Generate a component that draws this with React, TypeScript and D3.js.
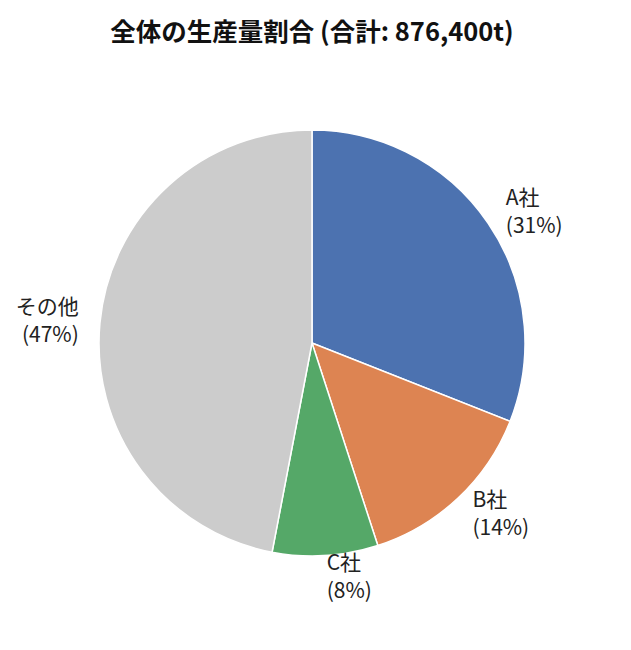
import { useEffect, useRef } from "react";
import * as d3 from "d3";

const title = "全体の生産量割合 (合計: 876,400t)";
const companies = ["A社", "B社", "C社", "その他"];
const shares = [31, 14, 8, 47];
const colors = ["#4c72b0", "#dd8452", "#55a868", "#cccccc"];

const width = 631;
const height = 650;
const cx = 312;
const cy = 343;
const radius = 213;

export default function App() {
  const svgRef = useRef<SVGSVGElement>(null);

  useEffect(() => {
    if (!svgRef.current) return;
    const svg = d3.select(svgRef.current);
    svg.selectAll("*").remove();

    svg
      .append("rect")
      .attr("width", width)
      .attr("height", height)
      .attr("fill", "#ffffff");

    const font = "'Noto Sans CJK JP', 'Noto Sans', sans-serif";

    svg
      .append("text")
      .attr("x", cx)
      .attr("y", 41)
      .attr("text-anchor", "middle")
      .attr("font-family", font)
      .attr("font-weight", "bold")
      .attr("font-size", 25.5)
      .attr("fill", "#111")
      .text(title);

    const data = companies.map((name, i) => ({ name, value: shares[i], color: colors[i] }));

    const pie = d3
      .pie<(typeof data)[number]>()
      .value((d) => d.value)
      .sort(null);

    const arcs = pie(data);
    const arc = d3
      .arc<d3.PieArcDatum<(typeof data)[number]>>()
      .innerRadius(0)
      .outerRadius(radius);

    const g = svg.append("g").attr("transform", `translate(${cx},${cy})`);

    g.selectAll("path")
      .data(arcs)
      .join("path")
      .attr("d", arc)
      .attr("fill", (d) => d.data.color)
      .attr("stroke", "#ffffff")
      .attr("stroke-width", 1.5);

    const labelR = radius * 1.1;
    const lineH = 28;

    arcs.forEach((d) => {
      const mid = (d.startAngle + d.endAngle) / 2;
      const x = labelR * Math.sin(mid);
      const y = -labelR * Math.cos(mid);
      const anchor = x >= 0 ? "start" : "end";
      const t = g
        .append("text")
        .attr("font-family", font)
        .attr("font-size", 21)
        .attr("fill", "#222")
        .attr("text-anchor", anchor);
      t.append("tspan")
        .attr("x", x)
        .attr("y", y - lineH / 2)
        .attr("dy", "0.35em")
        .text(d.data.name);
      t.append("tspan")
        .attr("x", x)
        .attr("y", y + lineH / 2)
        .attr("dy", "0.35em")
        .text(`(${d.data.value}%)`);
    });
  }, []);

  return (
    <svg
      ref={svgRef}
      width={width}
      height={height}
      style={{ position: "absolute", left: 0, top: 0 }}
    />
  );
}
